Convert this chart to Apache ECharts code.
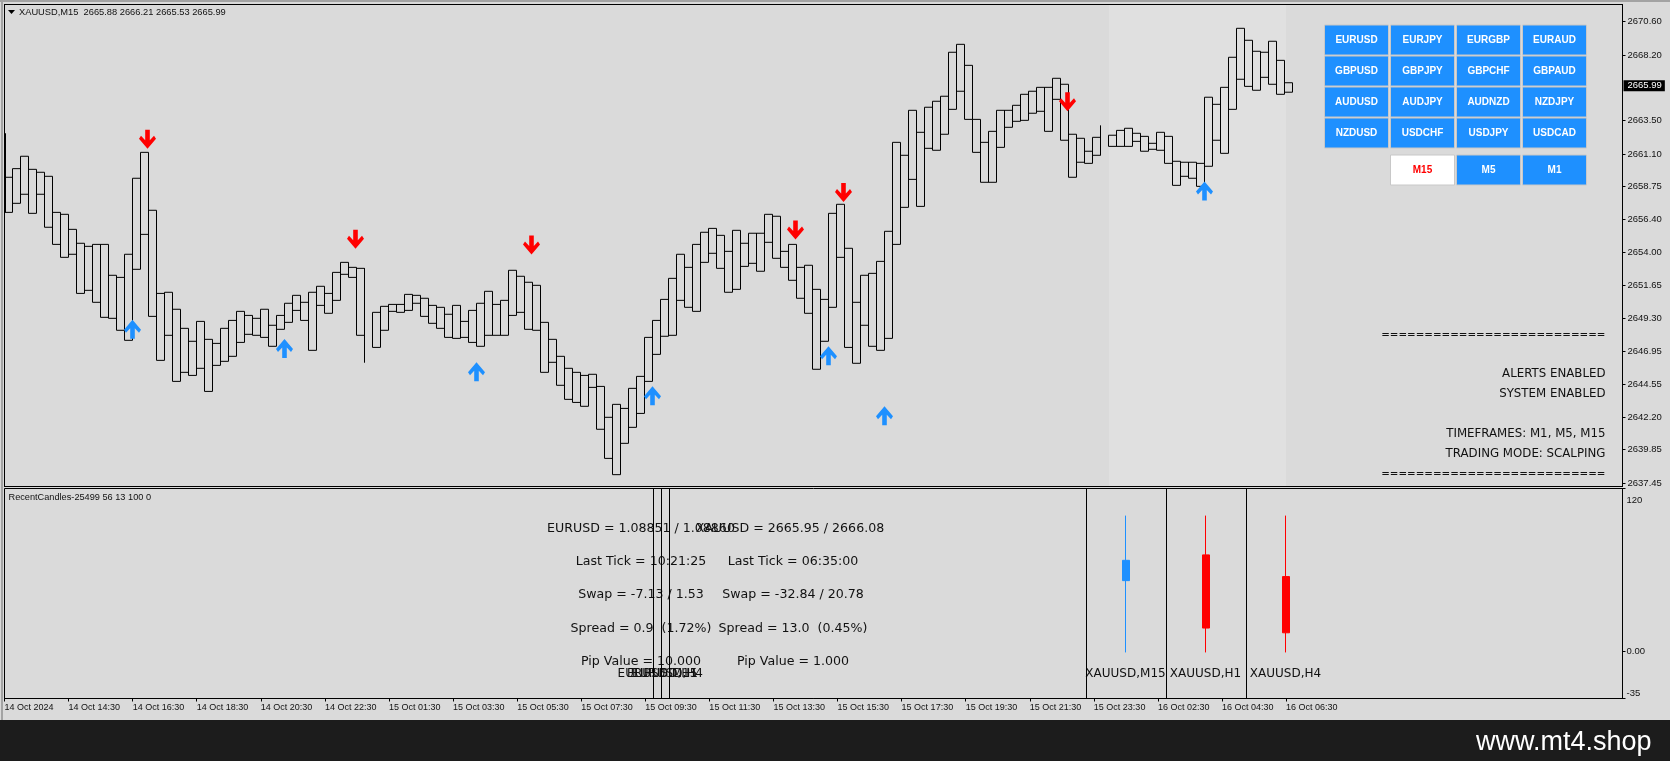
<!DOCTYPE html>
<html>
<head>
<meta charset="utf-8">
<title>XAUUSD,M15</title>
<script src="https://cdn.jsdelivr.net/npm/echarts@6/dist/echarts.min.js"></script>
<style>
html, body { margin: 0; padding: 0; background: #dadada; }
#main { width: 1670px; height: 761px; }
</style>
</head>
<body>
<div id="main"></div>
<script>
// bars of the M15 chart (null = no bar in that slot)
var highs = [
  2659.42,2660.04,2660.93,2659.99,2659.78,2659.49,2656.90,2656.76,2655.68,2654.68,
  2654.46,2654.60,2654.60,2652.38,2652.23,2653.89,2659.35,2661.21,2657.05,2651.08,
  2651.16,2649.94,2648.57,2647.64,2649.07,2647.78,2647.49,2648.57,2649.14,2649.79,
  2649.50,2649.29,2649.94,2648.79,2649.50,2650.37,2650.94,2650.44,2651.16,2651.59,
  2651.08,2652.59,2653.31,2652.95,2652.88,null,2649.72,2650.15,2650.29,2650.29,
  2651.01,2650.94,2650.73,2650.22,2650.08,2649.58,2650.22,2649.07,2649.86,2650.37,
  2651.23,2650.29,2650.58,2652.74,2652.31,2651.88,2651.66,2649.00,2647.78,2646.56,
  2645.70,2645.41,2645.19,2645.27,2644.40,2642.18,2643.11,2642.82,2644.26,2645.12,
  2647.92,2649.14,2650.65,2652.16,2653.89,2652.95,2654.60,2655.47,2655.75,2655.25,
  2654.10,2655.61,2654.68,2655.40,2655.40,2656.76,2656.62,2654.10,2654.60,2652.95,
  2653.10,2651.37,2650.65,2656.83,2657.48,2654.32,2650.44,2652.38,2652.52,2653.38,
  2655.54,2661.93,2661.00,2664.23,2662.65,2664.45,2664.88,2665.24,2668.40,2668.97,
  2667.46,2663.58,2661.93,2662.72,2664.23,2664.23,2664.59,2665.38,2665.60,2665.88,
  2665.88,2666.53,2666.10,2662.51,2662.22,2661.29,2662.29,null,2662.44,2662.79,
  2662.94,2662.58,2662.36,2661.86,2662.65,2662.36,2660.57,2660.50,2660.50,2660.42,
  2665.17,2664.66,2665.88,2668.04,2670.12,2669.26,2668.47,2668.40,2669.19,2667.82,
  2666.21
];
var lows = [
  2656.90,2657.55,2658.20,2656.83,2658.20,2655.83,2654.60,2653.67,2653.89,2651.08,
  2651.30,2650.44,2649.36,2649.29,2648.43,2647.71,2652.81,2655.32,2649.43,2646.27,
  2648.07,2644.76,2645.41,2645.19,2645.70,2644.04,2645.91,2646.20,2646.56,2647.56,
  2648.14,2648.07,2647.92,2647.28,2648.50,2649.00,2649.86,2649.14,2646.99,2650.22,
  2649.65,2650.58,2652.45,2652.23,2648.07,null,2647.20,2648.43,2649.79,2649.72,
  2649.86,2650.37,2649.43,2648.93,2648.57,2647.92,2647.85,2647.92,2647.56,2647.28,
  2648.07,2648.07,2648.07,2649.50,2649.72,2648.50,2648.43,2645.41,2646.13,2644.48,
  2643.47,2643.25,2642.97,2644.33,2641.32,2639.23,2638.06,2640.31,2641.46,2642.46,
  2644.76,2646.70,2648.00,2648.07,2650.58,2650.08,2649.79,2653.31,2653.96,2652.88,
  2651.16,2651.37,2653.02,2653.24,2652.67,2654.75,2653.60,2652.95,2652.02,2650.73,
  2649.65,2645.63,2647.64,2650.08,2653.67,2647.20,2646.06,2648.79,2647.28,2646.99,
  2647.85,2654.60,2657.26,2659.27,2657.33,2661.50,2661.36,2662.51,2664.30,2665.60,
  2663.58,2661.21,2659.06,2659.06,2661.57,2663.01,2663.44,2663.51,2664.02,2664.16,
  2662.72,2665.02,2662.08,2659.42,2660.50,2660.42,2661.00,null,2661.64,2661.64,
  2661.64,2662.00,2661.29,2661.43,2661.36,2660.42,2658.84,2659.49,2659.35,2658.77,
  2660.21,2662.08,2661.14,2664.30,2666.46,2665.95,2665.67,2666.60,2666.10,2665.38,
  2665.53
];
// lone vertical strokes on the left edge of a slot: [slot, low, high]
var strays = [[0, 2656.90, 2662.58], [45, 2646.10, 2652.88], [137, 2661.00, 2663.15]];

// arrows: [slot, price]
var sellArrows = [[17, 2662.15], [43, 2654.96], [65, 2654.56], [98, 2655.63], [104, 2658.32], [132, 2664.85]];
var buyArrows = [[16, 2648.50], [35, 2647.13], [59, 2645.46], [81, 2643.73], [103, 2646.61], [110, 2642.30], [150, 2658.44]];

var priceTicks = [2670.60, 2668.20, 2663.50, 2661.10, 2658.75, 2656.40, 2654.00, 2651.65, 2649.30, 2646.95, 2644.55, 2642.20, 2639.85, 2637.45];
var lastPrice = 2665.99;
var timeLabels = ['14 Oct 2024', '14 Oct 14:30', '14 Oct 16:30', '14 Oct 18:30', '14 Oct 20:30', '14 Oct 22:30',
  '15 Oct 01:30', '15 Oct 03:30', '15 Oct 05:30', '15 Oct 07:30', '15 Oct 09:30', '15 Oct 11:30', '15 Oct 13:30',
  '15 Oct 15:30', '15 Oct 17:30', '15 Oct 19:30', '15 Oct 21:30', '15 Oct 23:30', '16 Oct 02:30', '16 Oct 04:30', '16 Oct 06:30'];

// RecentCandles panel
var recentSlots = [140, 150, 160];
var recentNames = ['XAUUSD,M15', 'XAUUSD,H1', 'XAUUSD,H4'];
var recentOpen = [52, 71, 55];
var recentClose = [67, 17, 13.5];
var recentLow = [-1, -1, -1];
var recentHigh = [100, 100, 100];
var panelLines = [81, 82, 83, 135, 145, 155];
var panelTicks = [-35, 0, 120];
var eurusdRows = ['EURUSD = 1.08851 / 1.08860', 'Last Tick = 10:21:25', 'Swap = -7.13 / 1.53', 'Spread = 0.9  (1.72%)', 'Pip Value = 10.000'];
var xauusdRows = ['XAUUSD = 2665.95 / 2666.08', 'Last Tick = 06:35:00', 'Swap = -32.84 / 20.78', 'Spread = 13.0  (0.45%)', 'Pip Value = 1.000'];
var eurusdNames = ['EURUSD,M15', 'EURUSD,H1', 'EURUSD,H4'];

var symbolButtons = [
  ['EURUSD', 'EURJPY', 'EURGBP', 'EURAUD'],
  ['GBPUSD', 'GBPJPY', 'GBPCHF', 'GBPAUD'],
  ['AUDUSD', 'AUDJPY', 'AUDNZD', 'NZDJPY'],
  ['NZDUSD', 'USDCHF', 'USDJPY', 'USDCAD']
];
var timeframeButtons = ['M15', 'M5', 'M1'];
var infoLines = ['ALERTS ENABLED', 'SYSTEM ENABLED', 'TIMEFRAMES: M1, M5, M15', 'TRADING MODE: SCALPING'];
var ruleLine = '==========================';

var BG = '#dadada', BLUE = '#1e90ff', RED = '#ff0000';
var UI_FONT = '"DejaVu Sans"', AXIS_FONT = '"Liberation Sans"';
var SLOTS = 202;
var ARROW = 'path://M8.5 0 L17 10 L15 13 L10.8 8.5 L10.8 19 L6.2 19 L6.2 8.5 L2 13 L0 10 Z';

var bars = highs.map(function (h, i) {
  return h === null ? ['-', '-', '-', '-'] : [lows[i], h, lows[i], h];
});
var slotNames = [], bottomNames = [];
for (var i = 0; i < SLOTS; i++) slotNames.push(String(i));
for (i = 0; i <= SLOTS; i++) bottomNames.push(i % 8 === 0 && timeLabels[i / 8] ? timeLabels[i / 8] : '');

function isTimeTick(i) { return i % 8 === 0 && i / 8 < timeLabels.length; }

// ---- decorations, buttons and printed text
var graphic = [
  { type: 'rect', shape: { x: 0, y: 720, width: 1670, height: 41 }, style: { fill: '#1c1c1c' } },
  { type: 'rect', shape: { x: 1, y: 0, width: 2, height: 720 }, style: { fill: '#a3a3a3' } },
  { type: 'rect', shape: { x: 0, y: 0, width: 1670, height: 2 }, style: { fill: '#a3a3a3' } },
  { type: 'rect', shape: { x: 1109, y: 5, width: 177, height: 481 }, style: { fill: '#e0e0e0' } },
  // frame of the price pane
  { type: 'rect', shape: { x: 4, y: 4, width: 1619, height: 1 }, style: { fill: '#000' } },
  { type: 'rect', shape: { x: 4, y: 4, width: 1, height: 483 }, style: { fill: '#000' } },
  { type: 'rect', shape: { x: 4, y: 486, width: 1619, height: 1 }, style: { fill: '#000' } },
  { type: 'polygon', shape: { points: [[8, 10], [15, 10], [11.5, 14]] }, style: { fill: '#000' } }
];
function addText(text, x, y, font, align, fill, weight) {
  graphic.push({
    type: 'text', x: x, y: y, z: 3,
    style: { text: text, fill: fill || '#111', font: (weight || 'normal') + ' ' + font, textAlign: align || 'left', textVerticalAlign: 'middle' }
  });
}
addText('XAUUSD,M15  2665.88 2666.21 2665.53 2665.99', 19, 12.5, '9.3px ' + AXIS_FONT);
addText('RecentCandles-25499 56 13 100 0', 8.5, 497.5, '9.2px ' + AXIS_FONT);
addText('www.mt4.shop', 1651.5, 743, '27px ' + AXIS_FONT, 'right', '#fff');

var rowYs = [528.5, 562, 595, 629, 662];
rowYs.forEach(function (y, r) {
  addText(eurusdRows[r], 641, y, '12.6px ' + UI_FONT, 'center');
  addText(xauusdRows[r], r === 0 ? 790 : 793, y, '12.6px ' + UI_FONT, 'center');
});
recentNames.forEach(function (n, i) {
  addText(n, 1125.5 + 80 * i, 673.5, '12px ' + UI_FONT, 'center');
  addText(eurusdNames[i], 657.5 + 5 * i, 673.5, '12px ' + UI_FONT, 'center');
});

addText(ruleLine, 1605.5, 335, '10.3px ' + UI_FONT, 'right');
addText(infoLines[0], 1605.5, 373.5, '11.8px ' + UI_FONT, 'right');
addText(infoLines[1], 1605.5, 393.5, '11.8px ' + UI_FONT, 'right');
addText(infoLines[2], 1605.5, 433.5, '11.8px ' + UI_FONT, 'right');
addText(infoLines[3], 1605.5, 453.5, '11.8px ' + UI_FONT, 'right');
addText(ruleLine, 1605.5, 474, '10.3px ' + UI_FONT, 'right');

var colX = [1324.5, 1390.5, 1456.5, 1522.5], rowY = [25, 56, 87, 118];
function addButton(text, x, y, fill, color) {
  graphic.push({
    type: 'rect', z: 2,
    shape: { x: x, y: y, width: 64, height: 30 },
    style: { fill: fill, stroke: '#c8c8c8', lineWidth: 1 }
  });
  addText(text, x + 32, y + 15.5, '10px ' + AXIS_FONT, 'center', color, 'bold');
}
symbolButtons.forEach(function (row, r) {
  row.forEach(function (name, c) { addButton(name, colX[c], rowY[r], BLUE, '#fff'); });
});
timeframeButtons.forEach(function (name, c) {
  addButton(name, colX[c + 1], 155, c === 0 ? '#fff' : BLUE, c === 0 ? RED : '#fff');
});

var myChart = echarts.init(document.getElementById('main'));

var option = {
  animation: false,
  backgroundColor: BG,
  graphic: graphic,
  grid: [
    { left: 4.5, top: 4.5, width: 1616, height: 482, show: false },
    { left: 4.5, top: 488.5, width: 1618, height: 210, show: true, borderColor: '#000', borderWidth: 1, backgroundColor: 'transparent' }
  ],
  xAxis: [
    { type: 'category', gridIndex: 0, data: slotNames, axisLine: { show: false }, axisTick: { show: false }, axisLabel: { show: false }, splitLine: { show: false } },
    {
      type: 'category', gridIndex: 1, data: bottomNames, boundaryGap: false,
      axisLine: { onZero: false, lineStyle: { color: '#000' } },
      axisTick: { alignWithLabel: true, length: 3, interval: function (i) { return isTimeTick(i); }, lineStyle: { color: '#000' } },
      axisLabel: { interval: function (i) { return isTimeTick(i); }, align: 'left', margin: 5, color: '#111', fontFamily: AXIS_FONT, fontSize: 9 },
      splitLine: { show: false }
    }
  ],
  yAxis: [
    {
      type: 'value', gridIndex: 0, position: 'right', offset: 2, min: 2637.21, max: 2671.83, splitLine: { show: false },
      axisLine: { show: true, lineStyle: { color: '#000' } },
      axisTick: { show: true, length: 3, customValues: priceTicks, lineStyle: { color: '#000' } },
      axisLabel: { customValues: priceTicks, margin: 5, color: '#111', fontFamily: AXIS_FONT, fontSize: 9.5, formatter: function (v) { return v.toFixed(2); } }
    },
    {
      type: 'value', gridIndex: 1, position: 'right', min: -35, max: 120, splitLine: { show: false },
      axisLine: { show: true, lineStyle: { color: '#000' } },
      axisTick: { show: true, length: 3, customValues: panelTicks, lineStyle: { color: '#000' } },
      axisLabel: {
        customValues: panelTicks, margin: 4, color: '#111', fontFamily: AXIS_FONT, fontSize: 9.5,
        verticalAlignMinLabel: 'bottom', verticalAlignMaxLabel: 'top',
        formatter: function (v) { return v === 120 ? '{top|120}' : (v === 0 ? '0.00' : String(v)); },
        rich: { top: { padding: [7, 0, 0, 0], color: '#111', fontFamily: AXIS_FONT, fontSize: 9.5 } }
      }
    }
  ],
  series: [
    {
      name: 'XAUUSD,M15', type: 'candlestick', xAxisIndex: 0, yAxisIndex: 0, barWidth: 9, data: bars, z: 3,
      itemStyle: { color: 'transparent', color0: 'transparent', borderColor: '#000', borderColor0: '#000', borderWidth: 1 },
      markLine: {
        silent: true, symbol: 'none', animation: false,
        lineStyle: { width: 0, color: '#000' },
        label: { position: 'end', distance: 3, formatter: function () { return lastPrice.toFixed(2); }, color: '#fff', backgroundColor: '#000', padding: [1, 3, 0, 4], fontFamily: AXIS_FONT, fontSize: 9.5 },
        data: [{ yAxis: lastPrice }]
      }
    },
    {
      name: 'strays', type: 'custom', xAxisIndex: 0, yAxisIndex: 0, data: strays, z: 3, clip: true,
      renderItem: function (params, api) {
        var half = api.size([1, 0])[0] / 2;
        var top = api.coord([api.value(0), api.value(2)]);
        var bottom = api.coord([api.value(0), api.value(1)]);
        var thick = api.value(0) === 0;
        var x = Math.floor(top[0] - half) + (thick ? 1 : 0.5);
        return {
          type: 'line',
          shape: { x1: x, y1: top[1], x2: x, y2: bottom[1] },
          style: { stroke: '#000', lineWidth: thick ? 2 : 1 }
        };
      },
      encode: { x: 0, y: [1, 2] }
    },
    {
      name: 'sell', type: 'scatter', xAxisIndex: 0, yAxisIndex: 0, data: sellArrows, z: 6,
      symbol: ARROW, symbolRotate: 180, symbolSize: [17, 19], symbolOffset: [3, 0],
      itemStyle: { color: RED, opacity: 1 }
    },
    {
      name: 'buy', type: 'scatter', xAxisIndex: 0, yAxisIndex: 0, data: buyArrows, z: 6,
      symbol: ARROW, symbolSize: [17, 19], symbolOffset: [-4, 0],
      itemStyle: { color: BLUE, opacity: 1 }
    },
    {
      name: 'RecentCandles', type: 'candlestick', xAxisIndex: 1, yAxisIndex: 1, barWidth: 8, z: 3,
      data: recentSlots.map(function (s, i) {
        return { value: [s, recentOpen[i], recentClose[i], recentLow[i], recentHigh[i]] };
      }),
      encode: { x: 0, y: [1, 2, 3, 4] },
      itemStyle: { color: BLUE, color0: RED, borderColor: BLUE, borderColor0: RED, borderWidth: 1 },
      markLine: {
        silent: true, symbol: 'none', animation: false, label: { show: false },
        lineStyle: { color: '#000', width: 1, type: 'solid' },
        data: panelLines.map(function (s) { return { xAxis: s }; })
      }
    }
  ]
};

myChart.setOption(option);
</script>
</body>
</html>
